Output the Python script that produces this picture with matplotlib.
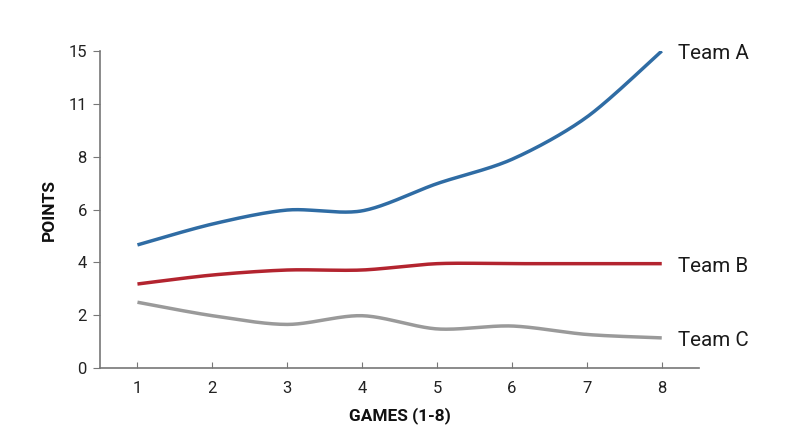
import numpy as np
import matplotlib
matplotlib.use("Agg")
import matplotlib.pyplot as plt

games = [1, 2, 3, 4, 5, 6, 7, 8]
# values on the evenly spaced axis scale (tick positions 0..12 labelled 0,2,4,6,8,11,15)
team_a = [4.66, 5.45, 5.98, 5.95, 6.98, 7.9, 9.5, 12.0]
team_b = [3.18, 3.52, 3.71, 3.71, 3.95, 3.95, 3.95, 3.95]
team_c = [2.49, 1.98, 1.65, 1.98, 1.48, 1.59, 1.27, 1.14]
series_names = ["Team A", "Team B", "Team C"]
tick_pos = [0, 2, 4, 6, 8, 10, 12]
tick_labels = ["0", "2", "4", "6", "8", "11", "15"]

colors = ["#2f6ca4", "#b3242f", "#9a9a9a"]

plt.rcParams['font.family'] = ['Roboto', 'DejaVu Sans']


def cardinal(x, y, tension=0.5, n=40):
    x = np.asarray(x, float); y = np.asarray(y, float)
    px = np.concatenate([[x[0]], x, [x[-1]]])
    py = np.concatenate([[y[0]], y, [y[-1]]])
    xs, ys = [], []
    t = np.linspace(0, 1, n)
    for i in range(1, len(px) - 2):
        p0 = np.array([px[i], py[i]]); p1 = np.array([px[i + 1], py[i + 1]])
        m0 = tension * (np.array([px[i + 1], py[i + 1]]) - np.array([px[i - 1], py[i - 1]]))
        m1 = tension * (np.array([px[i + 2], py[i + 2]]) - np.array([px[i], py[i]]))
        h00 = 2 * t**3 - 3 * t**2 + 1
        h10 = t**3 - 2 * t**2 + t
        h01 = -2 * t**3 + 3 * t**2
        h11 = t**3 - t**2
        pts = (np.outer(h00, p0) + np.outer(h10, m0) + np.outer(h01, p1) + np.outer(h11, m1))
        xs.append(pts[:, 0]); ys.append(pts[:, 1])
    return np.concatenate(xs), np.concatenate(ys)


fig = plt.figure(figsize=(8, 4.47), dpi=100)
ax = fig.add_axes([0.125, 0.1767, 0.749, 0.7092])

for vals, col, name in zip([team_a, team_b, team_c], colors, series_names):
    sx, sy = cardinal(games, vals, tension=0.45)
    ax.plot(sx, sy, color=col, lw=2.5, solid_capstyle='butt')
    ax.annotate(name, xy=(games[-1], vals[-1]), xytext=(12, -1.8), textcoords='offset points',
                va='center', ha='left', fontsize=14.8, color='#1a1a1a', annotation_clip=False)

ax.set_xlim(0.5, 8.5)
ax.set_ylim(0, 12)
ax.set_xticks(games)
ax.set_yticks(tick_pos)
ax.set_yticklabels(tick_labels)
for s in ['top', 'right']:
    ax.spines[s].set_visible(False)
for s in ['left', 'bottom']:
    ax.spines[s].set_color('#777777')
    ax.spines[s].set_linewidth(1.2)
ax.tick_params(axis='x', direction='in', length=4, color='#777777', labelsize=12,
               labelcolor='#222222', pad=9)
ax.tick_params(axis='y', direction='out', length=5, color='#777777', labelsize=12,
               labelcolor='#222222', pad=4.5)
ax.set_xlabel("GAMES (1-8)", fontsize=12.4, fontweight='bold', labelpad=8.5, color='#111111')
ax.set_ylabel("POINTS", fontsize=12.5, fontweight='bold', labelpad=8, color='#111111')

fig.savefig("out.png", dpi=100)
